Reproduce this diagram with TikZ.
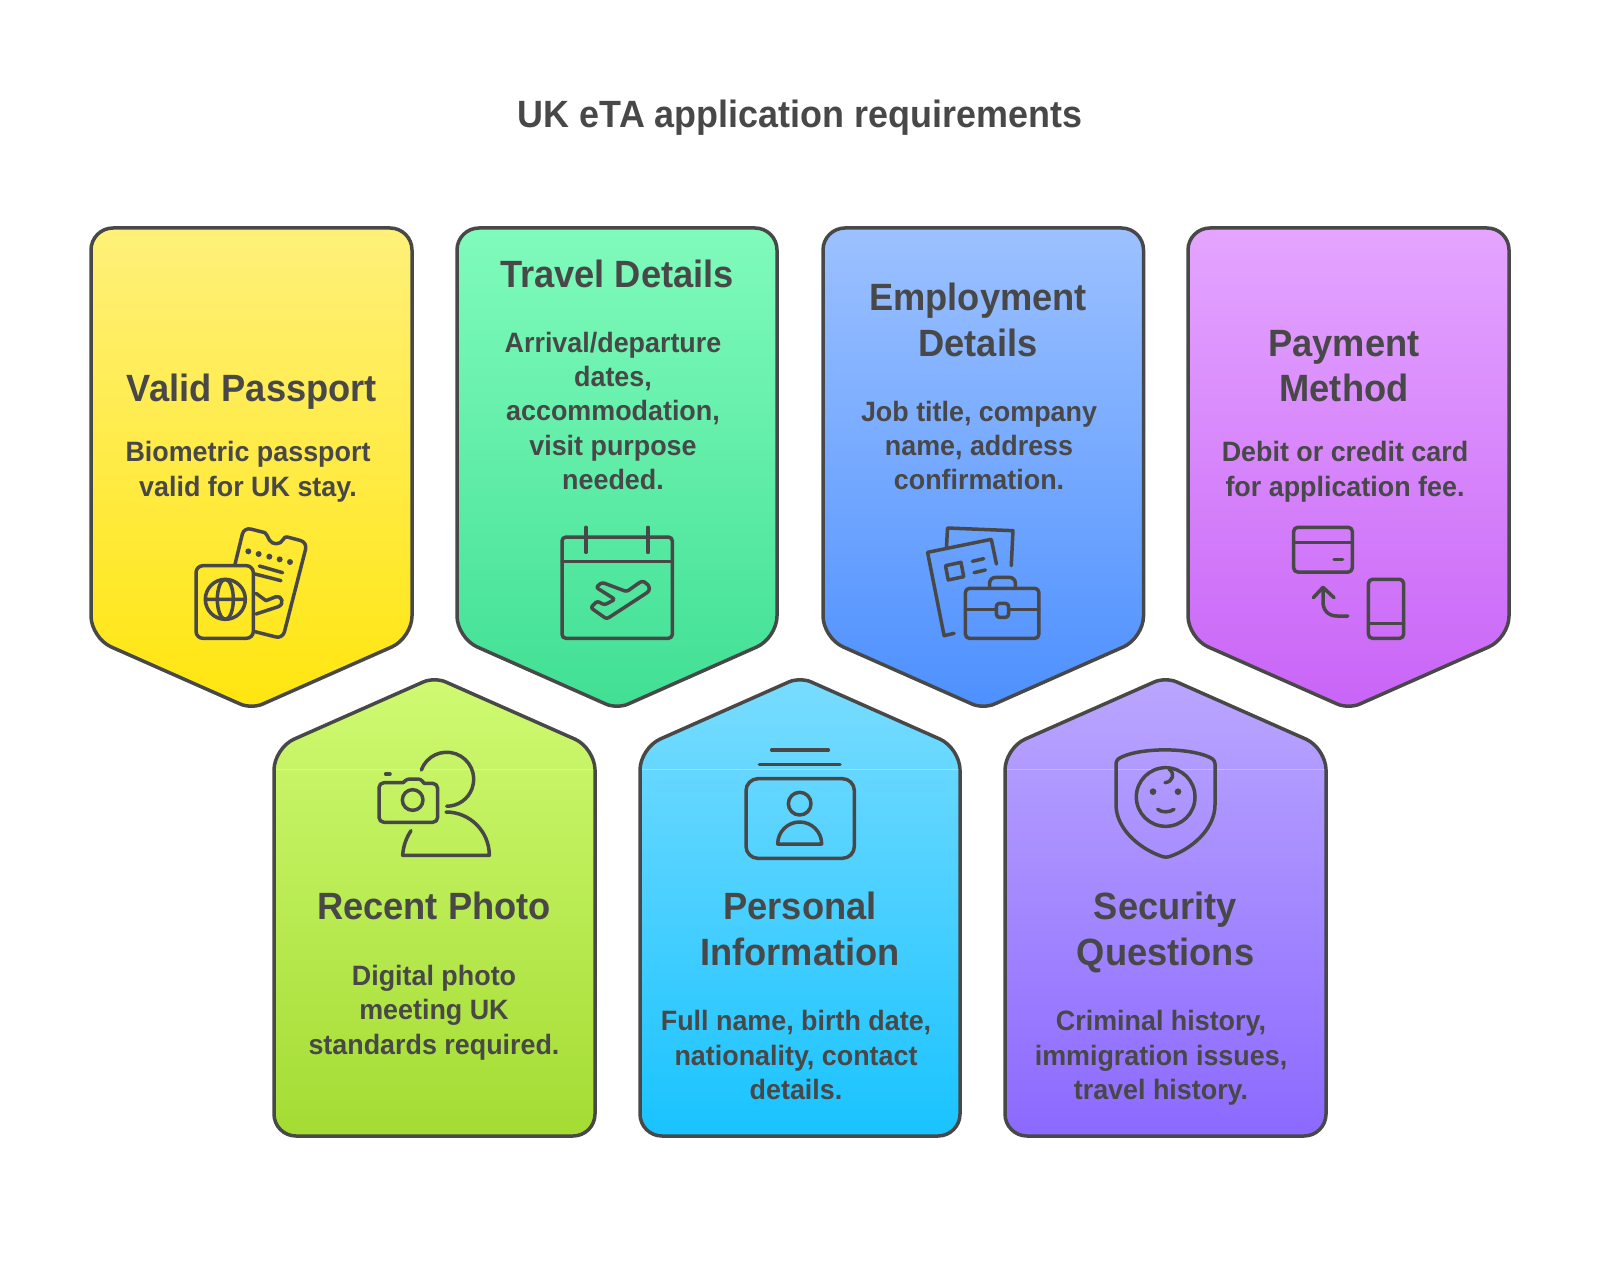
\documentclass[tikz,border=0pt]{standalone}
\usepackage{fontspec}
\setmainfont{Liberation Sans}[BoldFont={Liberation Sans Bold}]
\newfontfamily\titlefont{Liberation Sans Bold}[FakeStretch=0.945]
\newfontfamily\headfont{Liberation Sans Bold}[FakeStretch=0.955]
\newfontfamily\bodyfont{Liberation Sans Bold}[FakeStretch=0.96]
\definecolor{ink}{HTML}{484848}
\newcommand{\cardline}{1.75pt}
\newcommand{\downcard}[4]{%
  \definecolor{ctop}{HTML}{#3}\definecolor{cbot}{HTML}{#4}%
  \path[draw=ink,line width=\cardline,top color=ctop,bottom color=cbot,rounded corners=11pt]
    ({(#1+#2)/2},228) -- (#2,228) -- (#2,638) [rounded corners=6pt] -- ({(#1+#2)/2},709) [rounded corners=11pt] -- (#1,638) -- (#1,228) -- cycle;}
\newcommand{\upcard}[4]{%
  \definecolor{ctop}{HTML}{#3}\definecolor{cbot}{HTML}{#4}%
  \path[draw=ink,line width=\cardline,top color=ctop,bottom color=cbot,rounded corners=11pt]
    ({(#1+#2)/2},1136) -- (#2,1136) -- (#2,748) [rounded corners=6pt] -- ({(#1+#2)/2},677) [rounded corners=11pt] -- (#1,748) -- (#1,1136) -- cycle;
  \draw[white,opacity=.3,line width=.5pt] ({#1+1.5},769) -- ({#2-1.5},769);}
\tikzset{
  ttl/.style={font=\headfont\fontsize{19}{23}\selectfont,text=ink,inner sep=0pt,align=center,anchor=center,text height=12.7pt,text depth=0pt},
  bdy/.style={font=\bodyfont\fontsize{14}{17}\selectfont,text=ink,inner sep=0pt,align=center,anchor=center,text height=9.2pt,text depth=0pt},
  icon/.style={draw=ink,line width=1.75pt,line cap=round,line join=round},
  zm/.style={x=0.166667pt,y=-0.166667pt},
}
\begin{document}
\begin{tikzpicture}[x=0.5pt,y=-0.5pt]
\useasboundingbox (0,0) rectangle (1600,1273);
\fill[white] (0,0) rectangle (1600,1273);
\node[ttl,font=\titlefont\fontsize{19}{23}\selectfont] (title) at (800,115) {UK eTA application requirements};

\downcard{91}{412}{FFF07A}{FFE60F}
\downcard{457}{777}{80FBBB}{40DF94}
\downcard{823}{1143.5}{9CC1FF}{4D90FF}
\downcard{1188}{1509}{E4A5FF}{C964F7}
\upcard{274}{595}{CFFA72}{A4DC33}
\upcard{640}{960}{79DCFF}{19C3FF}
\upcard{1005}{1326}{BAA6FF}{8C69FF}

% card texts
\node[ttl] (t1) at (252,389) {Valid Passport};
\node[bdy] (b1a) at (248,452.5) {Biometric passport};
\node[bdy] (b1b) at (248,487) {valid for UK stay.};

\node[ttl] (t2) at (617,274.5) {Travel Details};
\node[bdy] (b2a) at (613,343) {Arrival/departure};
\node[bdy] (b2b) at (613,377.5) {dates,};
\node[bdy] (b2c) at (613,411.5) {accommodation,};
\node[bdy] (b2d) at (613,446) {visit purpose};
\node[bdy] (b2e) at (613,480) {needed.};

\node[ttl] (t3a) at (978,298) {Employment};
\node[ttl] (t3b) at (978,344) {Details};
\node[bdy] (b3a) at (979,412) {Job title, company};
\node[bdy] (b3b) at (979,446) {name, address};
\node[bdy] (b3c) at (979,480.5) {confirmation.};

\node[ttl] (t4a) at (1344,344) {Payment};
\node[ttl] (t4b) at (1344,389) {Method};
\node[bdy] (b4a) at (1345,452.5) {Debit or credit card};
\node[bdy] (b4b) at (1345,487) {for application fee.};

\node[ttl] (t5) at (434,907) {Recent Photo};
\node[bdy] (b5a) at (434,976.5) {Digital photo};
\node[bdy] (b5b) at (434,1010.5) {meeting UK};
\node[bdy] (b5c) at (434,1045) {standards required.};

\node[ttl] (t6a) at (800,907) {Personal};
\node[ttl] (t6b) at (800,953) {Information};
\node[bdy] (b6a) at (796,1021.5) {Full name, birth date,};
\node[bdy] (b6b) at (796,1056) {nationality, contact};
\node[bdy] (b6c) at (796,1090) {details.};

\node[ttl] (t7a) at (1165.5,907) {Security};
\node[ttl] (t7b) at (1165.5,953) {Questions};
\node[bdy] (b7a) at (1161,1021.5) {Criminal history,};
\node[bdy] (b7b) at (1161,1056) {immigration issues,};
\node[bdy] (b7c) at (1161,1090) {travel history.};

% icons: passport + calendar
\begin{scope}[shift={(170,510)},zm]
  \draw[icon,rounded corners=3.5pt] (195,163) -- (222,52) -- (285,68);
  \draw[icon] (285,68) .. controls (292,72) and (292,82) .. (298,90) .. controls (308,105) and (330,106) .. (340,88) .. controls (342,82) and (346,80) .. (352,81);
  \draw[icon,rounded corners=3.5pt] (352,81) -- (412,97) -- (338,386) -- (255,365);
  \foreach \px/\py in {235/124,266/132,298/140,329/148,360/156}
    \fill[ink] (\px,\py) circle[radius=9];
  \draw[icon] (268,168) -- (338,188) (255,192) -- (333,212);
  \draw[icon] (258,250) -- (288,272) -- (318,260) .. controls (335,255) and (345,282) .. (325,290) -- (258,312);
  \draw[icon,rounded corners=3.5pt] (78,167) rectangle (250,385);
  \draw[icon] (166,268) circle[radius=60] (106,268) -- (226,268);
  \draw[icon] (166,268) ellipse[x radius=24,y radius=60];
  \draw[icon,rounded corners=2pt] (1176,81) rectangle (1507,385);
  \draw[icon] (1176,155) -- (1507,155) (1248,52) -- (1248,127) (1434,52) -- (1434,127);
  \draw[icon,rounded corners=1.2pt] (1296,217) -- (1370,245) -- (1405,220) .. controls (1425,208) and (1450,235) .. (1425,252) -- (1310,327) -- (1262,293) -- (1282,273) -- (1303,285) -- (1335,268) -- (1278,232) -- cycle;
\end{scope}

% icons: employment + payment
\begin{scope}[shift={(900,510)},zm,x=0.17222pt]
  \draw[icon] (135,110) -- (138,54) -- (328,62) -- (323,167);
  \draw[icon] (280,162) -- (265,88) -- (80,127) -- (128,377) -- (157,370);
  \draw[icon] (132,167) -- (177,157) -- (185,200) -- (140,210) -- cycle;
  \draw[icon] (210,154) -- (243,146) (215,188) -- (248,180);
  \draw[icon,rounded corners=2pt] (190,235) rectangle (403,385);
  \draw[icon] (190,298) -- (280,298) (315,298) -- (403,298);
  \draw[icon,rounded corners=1.5pt] (280,280) rectangle (315,322);
  \draw[icon,rounded corners=3pt] (260,235) -- (260,202) -- (335,202) -- (335,235);
  \draw[icon,rounded corners=2pt] (1143,52) rectangle (1313,186);
  \draw[icon] (1143,97) -- (1313,97) (1260,148) -- (1285,148);
  \draw[icon,rounded corners=2pt] (1360,208) rectangle (1462,385);
  \draw[icon] (1360,340) -- (1462,340);
  \draw[icon] (1300,318) -- (1270,318) .. controls (1242,318) and (1228,300) .. (1228,275) -- (1228,232);
  \draw[icon] (1200,263) -- (1228,232) -- (1260,263);
\end{scope}

% icons: photo + id
\begin{scope}[shift={(360,730)},zm]
  \draw[icon,rounded corners=2.5pt] (130,158) -- (57,158) -- (57,277) -- (233,277) -- (233,160) -- (192,160);
  \draw[icon,rounded corners=1.5pt] (130,158) -- (140,147) -- (183,147) -- (192,160);
  \draw[icon] (158,210) circle[radius=31];
  \draw[icon] (77,132) -- (90,132);
  \draw[icon] (184,120) arc[start angle=200,end angle=450,radius=81];
  \draw[icon] (258,246) arc[start angle=270,end angle=360,radius=130] -- (128,376) .. controls (130,345) and (140,322) .. (153,302);
  \draw[icon] (1235,60) -- (1405,60) (1198,103) -- (1440,103);
  \draw[icon,rounded corners=6pt] (1158,146) rectangle (1483,385);
  \draw[icon] (1319,221) circle[radius=34];
  \draw[icon] (1253,342) arc[start angle=180,end angle=360,radius=66] -- cycle;
\end{scope}

% icon: shield
\begin{scope}[shift={(1080,730)},zm]
  \draw[icon,rounded corners=1.5pt] (108,92) -- (120,83) .. controls (190,53) and (320,53) .. (392,83) -- (405,92) -- (405,215) .. controls (405,300) and (330,360) .. (258,383) .. controls (185,360) and (108,300) .. (108,215) -- cycle;
  \draw[icon] (257,201) circle[radius=88];
  \fill[ink] (219,185) circle[radius=10] (294,185) circle[radius=10];
  \draw[icon] (233,238) .. controls (245,248) and (268,248) .. (282,238);
  \draw[icon] (268,118) .. controls (285,130) and (280,155) .. (255,158);
\end{scope}
\end{tikzpicture}
\end{document}
